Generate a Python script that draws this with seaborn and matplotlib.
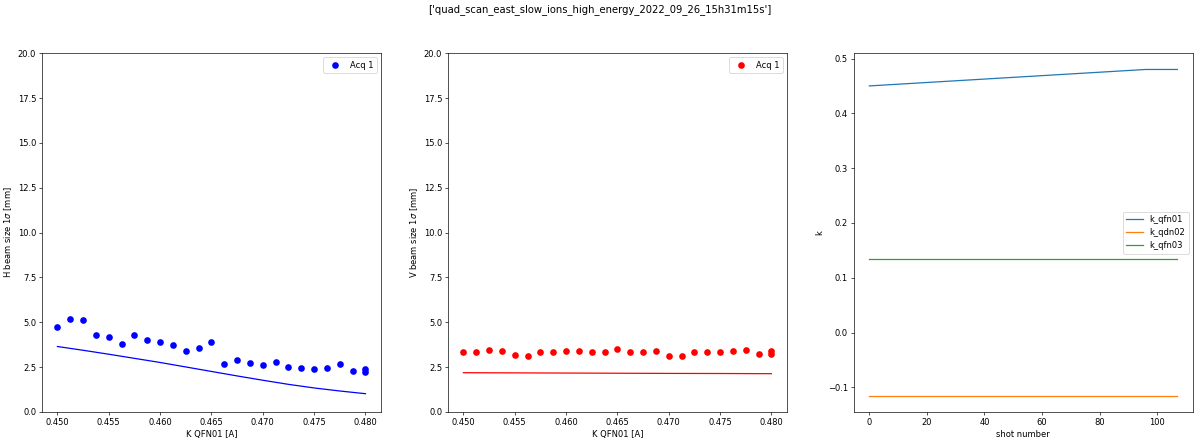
import numpy as np
import pandas as pd
import matplotlib
matplotlib.use("Agg")
import matplotlib.pyplot as plt
import seaborn as sns

# quad scan data
k_qfn01 = [0.45, 0.45125, 0.4525, 0.45375, 0.455, 0.45625, 0.4575, 0.45875,
           0.46, 0.46125, 0.4625, 0.46375, 0.465, 0.46625, 0.4675, 0.46875,
           0.47, 0.47125, 0.4725, 0.47375, 0.475, 0.47625, 0.4775, 0.47875,
           0.48, 0.48]
h_size = [4.75, 5.2, 5.1, 4.29, 4.2, 3.8, 4.29, 4.03, 3.9, 3.71, 3.38, 3.55,
          3.88, 2.67, 2.9, 2.75, 2.6, 2.79, 2.49, 2.47, 2.41, 2.47, 2.66, 2.27,
          2.41, 2.21]
v_size = [3.36, 3.36, 3.44, 3.42, 3.16, 3.14, 3.36, 3.36, 3.40, 3.38, 3.36, 3.36,
          3.51, 3.32, 3.36, 3.38, 3.14, 3.12, 3.36, 3.34, 3.34, 3.42, 3.45, 3.21,
          3.40, 3.21]

# fitted curves
k_fit = [0.45, 0.4525, 0.455, 0.4575, 0.46, 0.4625, 0.465, 0.4675, 0.47,
         0.4725, 0.475, 0.4775, 0.48]
h_fit = [3.65, 3.44, 3.22, 2.99, 2.76, 2.51, 2.26, 2.01, 1.77, 1.54, 1.34, 1.17, 1.02]
v_fit = [2.19, 2.185, 2.18, 2.175, 2.17, 2.165, 2.16, 2.155, 2.15, 2.148, 2.145, 2.14, 2.135]

# magnet settings vs shot
shot_qfn01 = [0, 96, 107]
val_qfn01 = [0.45, 0.48, 0.48]
shot_const = [0, 107]
val_qdn02 = [-0.115, -0.115]
val_qfn03 = [0.134, 0.134]

fig, axes = plt.subplots(1, 3, figsize=(20, 443 / 60), dpi=60)
fig.subplots_adjust(left=0.035, right=0.994, top=0.88, bottom=0.07, wspace=0.198)
fig.suptitle("['quad_scan_east_slow_ions_high_energy_2022_09_26_15h31m15s']", y=0.99)

# H plane
ax = axes[0]
sns.scatterplot(x=k_qfn01, y=h_size, color="blue", s=64, linewidth=0, label="Acq 1", ax=ax)
sns.lineplot(x=k_fit, y=h_fit, color="blue", ax=ax)
ax.set_ylim(0, 20)
ax.set_xlabel("K QFN01 [A]")
ax.set_ylabel(r"H beam size 1$\sigma$ [mm]")
ax.legend(loc="upper right")

# V plane
ax = axes[1]
sns.scatterplot(x=k_qfn01, y=v_size, color="red", s=64, linewidth=0, label="Acq 1", ax=ax)
sns.lineplot(x=k_fit, y=v_fit, color="red", ax=ax)
ax.set_ylim(0, 20)
ax.set_xlabel("K QFN01 [A]")
ax.set_ylabel(r"V beam size 1$\sigma$ [mm]")
ax.legend(loc="upper right")

for ax in axes[:2]:
    ax.xaxis.set_major_formatter(matplotlib.ticker.FormatStrFormatter("%.3f"))

# k values
ax = axes[2]
sns.lineplot(x=shot_qfn01, y=val_qfn01, color="tab:blue", label="k_qfn01", ax=ax)
sns.lineplot(x=shot_const, y=val_qdn02, color="tab:orange", label="k_qdn02", ax=ax)
sns.lineplot(x=shot_const, y=val_qfn03, color="tab:green", label="k_qfn03", ax=ax)
ax.set_xlabel("shot number")
ax.set_ylabel("k")
ax.legend(loc="center right")

fig.savefig("out.png", dpi=60)
